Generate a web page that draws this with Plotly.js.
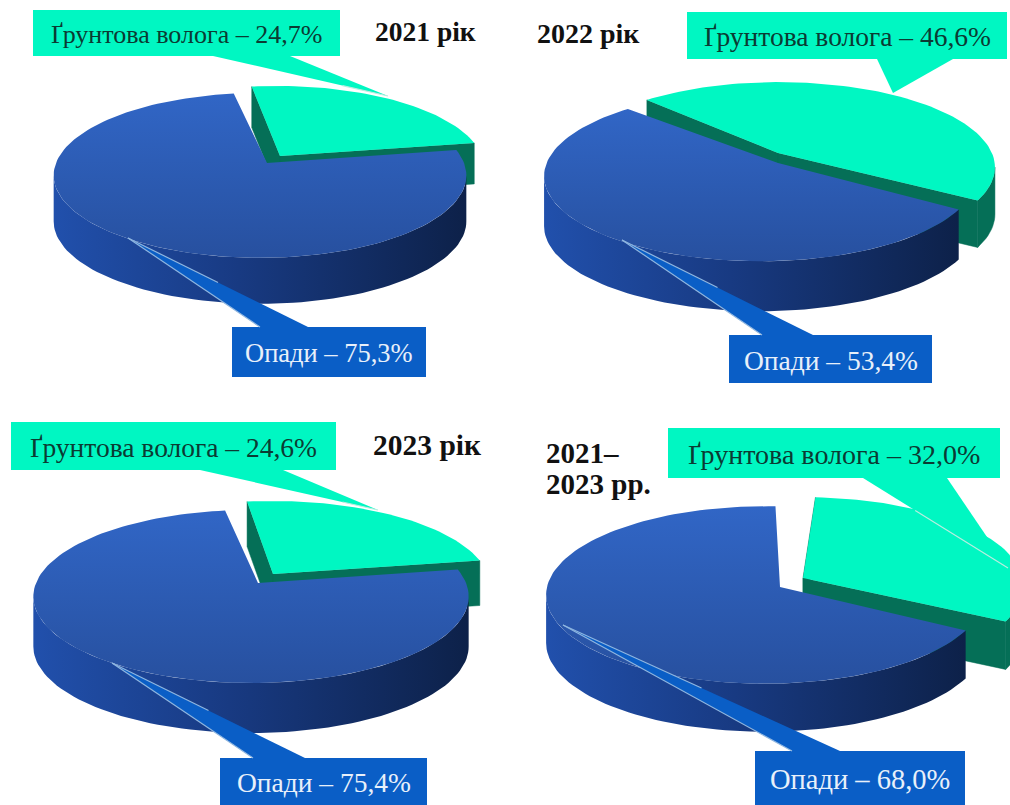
<!DOCTYPE html>
<html lang="uk">
<head>
<meta charset="utf-8">
<title>Структура водоспоживання</title>
<script src="https://cdn.plot.ly/plotly-3.0.1.min.js"></script>
<style>html,body{margin:0;padding:0;background:#fff}#chart{width:1010px;height:805px}</style>
</head>
<body>
<div id="chart"></div>
<script>
// Shares of the water balance, per cent
const periods = ['2021 рік', '2022 рік', '2023 рік', '2021–<br>2023 рр.'];
const soilMoisture = [24.7, 46.6, 24.6, 32.0];
const precipitation = [75.3, 53.4, 75.4, 68.0];
const soilLabel = 'Ґрунтова волога';
const rainLabel = 'Опади';

// Where each tilted disc sits on the sheet and how it is foreshortened
const discs = [
  {cx: 260, cy: 163, rx: 204, ry: 80.6, k: 0.15, depth: 46, tealDepth: 41, start: -8.5, apex: [7, 0], teal: [18, -7], tealApex: [2, 0]},
  {cx: 760, cy: 160, rx: 212, ry: 82, k: 0.19, depth: 50, tealDepth: 47, start: -45, apex: [18, 3], teal: [19, -9], tealApex: [-1, 2]},
  {cx: 251, cy: 583, rx: 215, ry: 84.4, k: 0.156, depth: 50, tealDepth: 45, start: -8, apex: [7, 0], teal: [22, -9], tealApex: [0, 0]},
  {cx: 765, cy: 587, rx: 218, ry: 88, k: 0.09, depth: 48, tealDepth: 48, start: 3, apex: [15, 0], teal: [40, -9], tealApex: [-2, 0]}
];
// Callout boxes: [x0, y0, x1, y1], pointer base [xa, xb], pointer tip [x, y]
// and the stretch of the left pointer edge that shows over the slice
const soilCallouts = [
  {box: [33, 10, 340, 56], base: [213, 290], tip: [388, 96], glint: 0.74},
  {box: [687, 12, 1007, 59], base: [877, 953], tip: [893, 93], glint: 1},
  {box: [11, 422, 336, 470], base: [200, 283], tip: [378, 510], glint: 0.8},
  {box: [668, 428, 1000, 478], base: [863, 947], tip: [1008, 568], glint: 0.36}
];
const rainCallouts = [
  {box: [232, 327, 426, 377], base: [260, 308], tip: [128, 238]},
  {box: [729, 335, 932, 383], base: [762, 813], tip: [622, 240]},
  {box: [220, 758, 427, 805], base: [253, 305], tip: [112, 663]},
  {box: [755, 751, 965, 805], base: [792, 840], tip: [563, 625]}
];
const periodAnchors = [[425, 31], [588, 33], [427, 445], [544, 453]];
const soilFontSizes = [26, 27.5, 27.5, 28];
const rainFontSizes = [26.5, 27.5, 27.5, 28.5];
const periodFontSizes = [27.5, 28, 29.5, 29];

const TEAL = '#00F7C2', TEAL_DARK = '#056F57', BOX_BLUE = '#0A5EC6';
const TOP_SCALE = [[0, '#27509F'], [1, '#3166C6']];
const WALL_SCALE = [[0, '#2150AC'], [0.45, '#183A82'], [1, '#0D2149']];
const SERIF = '"Liberation Serif", serif';

// Perspective projection of a point on the disc rim; theta runs clockwise from the far side
function rim(d, thetaDeg, off) {
  const t = thetaDeg * Math.PI / 180;
  const u = Math.sin(t), v = Math.cos(t), w = 1 + d.k * v;
  return [d.cx + off[0] + d.rx * u / w, d.cy + off[1] - d.ry * v / w];
}
function arc(d, a, b, off) {
  const pts = [], n = Math.max(2, Math.ceil(Math.abs(b - a) / 2));
  for (let i = 0; i <= n; i++) pts.push(rim(d, a + (b - a) * i / n, off));
  return pts;
}
function poly(points, style) {
  const x = points.map(p => p[0]), y = points.map(p => p[1]);
  x.push(x[0]); y.push(y[0]);
  return Object.assign({type: 'scatter', mode: 'lines', x, y, fill: 'toself', line: {width: 0}, hoverinfo: 'skip', showlegend: false}, style);
}
const shift = (pts, dy) => pts.map(p => [p[0], p[1] + dy]);
// Rim angle at which the projected disc is widest: the wall silhouette ends there
const tangent = d => Math.acos(-d.k) * 180 / Math.PI;

const traces = [];
discs.forEach((d, i) => {
  const soilSweep = soilMoisture[i] * 3.6, rainSweep = precipitation[i] * 3.6;
  const tealStart = d.start, tealEnd = d.start + soilSweep;
  const off = d.teal, tan = tangent(d);
  const tealCentre = [d.cx + off[0] + d.tealApex[0], d.cy + off[1] + d.tealApex[1]];
  const tip = rim(d, tealStart, off), corner = rim(d, tealEnd, off);

  // Exploded wedge: cut faces, outer wall, then its top
  const dark = {fillcolor: TEAL_DARK, line: {width: 0.5, color: TEAL_DARK}};
  traces.push(poly([tip, tealCentre, ...shift([tealCentre, tip], d.tealDepth)], dark));
  traces.push(poly([tealCentre, corner, ...shift([corner, tealCentre], d.tealDepth)], dark));
  if (tealEnd > tan) {
    const outer = arc(d, tan, tealEnd, off);
    traces.push(poly([...outer, ...shift(outer, d.tealDepth).reverse()], dark));
  }
  traces.push(poly([tealCentre, ...arc(d, tealStart, tealEnd, off)], {fillcolor: TEAL}));

  // Main wedge: outer wall, then its top
  const rainEnd = d.start + 360, rainStart = rainEnd - rainSweep;
  const wall = arc(d, Math.max(rainStart, tan), 360 - tan, [0, 0]);
  traces.push(poly([...wall, ...shift(wall, d.depth).reverse()], {
    fillcolor: '#183A82',
    fillgradient: {type: 'horizontal', colorscale: WALL_SCALE}
  }));
  traces.push(poly([[d.cx + d.apex[0], d.cy + d.apex[1]], ...arc(d, rainStart, rainEnd, [0, 0])], {
    fillcolor: '#2A58B0',
    fillgradient: {type: 'vertical', colorscale: TOP_SCALE}
  }));
});

// Callout drawn as a rectangle with a wedge pointing at the slice
function calloutShapes(c, colour, edge) {
  const [x0, y0, x1, y1] = c.box;
  const pointerY = c.tip[1] > y1 ? y1 : y0;
  const shapes = [
    {type: 'path', path: `M${c.base[0]},${pointerY} L${c.tip[0]},${c.tip[1]} L${c.base[1]},${pointerY} Z`,
     fillcolor: colour, line: {width: 0}},
    {type: 'rect', x0, y0, x1, y1, fillcolor: colour, line: {width: 0}}
  ];
  if (edge) {
    shapes.push({type: 'line', x0: c.base[0], y0: pointerY, x1: c.tip[0], y1: c.tip[1], line: {color: edge, width: 1.2}});
    shapes.push({type: 'line', x0: c.tip[0], y0: c.tip[1], x1: (c.tip[0] + c.base[1]) / 2, y1: (c.tip[1] + pointerY) / 2, line: {color: edge, width: 1.2}});
  }
  if (c.glint < 1) {
    shapes.push({type: 'line', x0: c.base[0] + (c.tip[0] - c.base[0]) * c.glint, y0: pointerY + (c.tip[1] - pointerY) * c.glint,
      x1: c.tip[0], y1: c.tip[1], line: {color: '#B8EEE0', width: 1.2}});
  }
  return shapes.map(s => Object.assign({xref: 'x', yref: 'y', layer: 'above'}, s));
}
const shapes = [];
soilCallouts.forEach(c => shapes.push(...calloutShapes(c, TEAL)));
rainCallouts.forEach(c => shapes.push(...calloutShapes(c, BOX_BLUE, '#8FB6E0')));

const pct = v => v.toFixed(1).replace('.', ',') + '%';
const note = (text, x, y, colour, size, bold, anchor) => ({
  xref: 'x', yref: 'y', x, y, text: bold ? `<b>${text}</b>` : text, showarrow: false,
  xanchor: anchor || 'center', yanchor: 'middle', align: 'left',
  font: {family: SERIF, size, color: colour}
});
const annotations = [];
periods.forEach((p, i) => {
  const s = soilCallouts[i].box, r = rainCallouts[i].box;
  annotations.push(note(`${soilLabel} – ${pct(soilMoisture[i])}`, (s[0] + s[2]) / 2, (s[1] + s[3]) / 2 + 1, '#0B3B33', soilFontSizes[i]));
  annotations.push(note(`${rainLabel} – ${pct(precipitation[i])}`, (r[0] + r[2]) / 2, (r[1] + r[3]) / 2 + 1, '#E8F0FA', rainFontSizes[i]));
  // Two-line period captions are set line by line for a tighter leading
  p.split('<br>').forEach((line, j) => {
    const a = periodAnchors[i];
    annotations.push(note(line, a[0], a[1] + j * 31, '#111111', periodFontSizes[i], true, i === 3 ? 'left' : 'center'));
  });
});

Plotly.newPlot('chart', traces, {
  width: 1010, height: 805,
  margin: {l: 0, r: 0, t: 0, b: 0},
  paper_bgcolor: '#ffffff', plot_bgcolor: '#ffffff',
  showlegend: false, hovermode: false,
  xaxis: {range: [0, 1010], visible: false, fixedrange: true},
  yaxis: {range: [805, 0], visible: false, fixedrange: true},
  shapes, annotations
}, {staticPlot: true, displayModeBar: false});
</script>
</body>
</html>
